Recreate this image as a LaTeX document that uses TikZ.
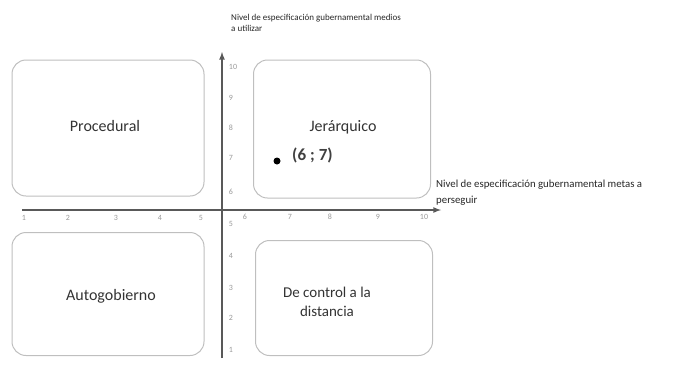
\documentclass[tikz,border=0pt]{standalone}
\usepackage{fontspec}
\setmainfont{Carlito}
\usepackage{tikz}
\usetikzlibrary{positioning,arrows}

\begin{document}
\begin{tikzpicture}[x=1pt,y=-1pt]
\tikzstyle{quad}=[rectangle, rounded corners=14pt, draw=black!25, line width=1pt, inner sep=0pt]
\tikzstyle{lbl}=[font=\fontsize{16}{19}\selectfont, text=black!80]
\tikzstyle{tick}=[font=\fontsize{8}{9}\selectfont, text=black!40, inner sep=0pt]
\tikzstyle{title}=[font=\fontsize{9}{11}\selectfont, text=black!85, align=left, inner sep=0pt]
\tikzstyle{axis}=[-latex, line width=1.6pt, draw=black!65]
\useasboundingbox (0,0) rectangle (683,365);
	% quadrants
	\node[quad, minimum width=192pt, minimum height=136pt] (proc) at (108,128) {};
	\node[quad, minimum width=177pt, minimum height=138pt] (jer) at (342,129) {};
	\node[quad, minimum width=192pt, minimum height=123pt] (auto) at (108,294) {};
	\node[quad, minimum width=177pt, minimum height=115pt] (ctrl) at (344,298) {};
	\node[lbl] (tproc) at (105,126) {Procedural};
	\node[lbl] (tjer) at (343,127) {Jerárquico};
	\node[lbl] (tauto) at (111,296) {Autogobierno};
	\node[lbl, align=center, font=\fontsize{15}{19}\selectfont] (tctrl) at (327,302) {De control a la\\distancia};
	% axes
	\coordinate (yb) at (222,358);
	\coordinate (yt) at (222,52);
	\coordinate (xl) at (22,210);
	\coordinate (xr) at (441,210);
	\draw[axis] (yb) -- (yt);
	\draw[axis] (xl) -- (xr);
	\node[title, anchor=south west] (ytitle) at (231,32) {Nivel de especificación gubernamental medios\\a utilizar};
	\node[title, anchor=south west, font=\fontsize{10.8}{16}\selectfont] (xtitle) at (436,206) {Nivel de especificación gubernamental metas a\\perseguir};
	% ticks on x
	\node[tick] (x1) at (24,218) {1};
	\node[tick] (x2) at (68,218) {2};
	\node[tick] (x3) at (116,218) {3};
	\node[tick] (x4) at (160,218) {4};
	\node[tick] (x5) at (201,218) {5};
	\node[tick] (x6) at (245,217) {6};
	\node[tick] (x7) at (290,217) {7};
	\node[tick] (x8) at (330,217) {8};
	\node[tick] (x9) at (378,217) {9};
	\node[tick] (x10) at (424,217) {10};
	% ticks on y
	\node[tick] (y10) at (233,67) {10};
	\node[tick] (y9) at (231,98) {9};
	\node[tick] (y8) at (231,128) {8};
	\node[tick] (y7) at (231,158) {7};
	\node[tick] (y6) at (231,192) {6};
	\node[tick] (y5) at (231,224) {5};
	\node[tick] (y4) at (231,256) {4};
	\node[tick] (y3) at (231,288) {3};
	\node[tick] (y2) at (231,318) {2};
	\node[tick] (y1) at (231,350) {1};
	% point
	\node[circle, fill=black, inner sep=0pt, minimum size=7pt] (pt) at (277,161) {};
	\node[font=\fontsize{17}{19}\selectfont\bfseries, text=black!75, inner sep=0pt, anchor=west] (ptl) at (292,155) {(6\hspace{4pt};\hspace{4pt}7)};
\end{tikzpicture}
\end{document}
